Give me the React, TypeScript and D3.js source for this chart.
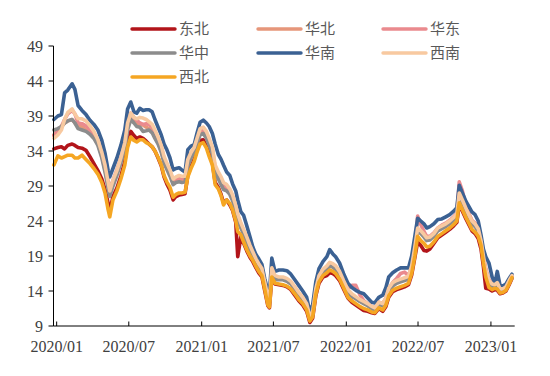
import React from "react";
import * as d3 from "d3";

const dates = [
"2019-12-25","2020-01-04","2020-01-13","2020-01-21","2020-01-29","2020-02-09","2020-02-16","2020-02-24","2020-03-05","2020-03-15",
"2020-03-25","2020-04-04","2020-04-14","2020-04-24","2020-05-02","2020-05-10","2020-05-14","2020-05-22","2020-06-01","2020-06-11",
"2020-06-21","2020-06-28","2020-07-06","2020-07-14","2020-07-21","2020-07-29","2020-08-06","2020-08-14","2020-08-21","2020-08-29",
"2020-09-05","2020-09-13","2020-09-21","2020-09-28","2020-10-05","2020-10-13","2020-10-21","2020-10-28","2020-11-05","2020-11-12",
"2020-11-20","2020-11-27","2020-12-05","2020-12-13","2020-12-20","2020-12-28","2021-01-05","2021-01-13","2021-01-20","2021-01-28",
"2021-02-04","2021-02-12","2021-02-19","2021-02-25","2021-03-05","2021-03-13","2021-03-20","2021-03-28","2021-04-02","2021-04-10",
"2021-04-17","2021-04-25","2021-05-03","2021-05-10","2021-05-18","2021-05-25","2021-06-02","2021-06-09","2021-06-17","2021-06-21",
"2021-06-27","2021-07-05","2021-07-15","2021-07-25","2021-08-04","2021-08-14","2021-08-24","2021-09-03","2021-09-13","2021-09-23",
"2021-10-01","2021-10-08","2021-10-16","2021-10-24","2021-11-03","2021-11-13","2021-11-20","2021-11-28","2021-12-05","2021-12-15",
"2021-12-25","2022-01-05","2022-01-15","2022-01-25","2022-02-04","2022-02-14","2022-02-24","2022-03-06","2022-03-14","2022-03-24",
"2022-04-03","2022-04-11","2022-04-18","2022-04-28","2022-05-08","2022-05-18","2022-05-28","2022-06-07","2022-06-15","2022-06-23",
"2022-06-30","2022-07-08","2022-07-16","2022-07-23","2022-07-31","2022-08-10","2022-08-20","2022-08-30","2022-09-09","2022-09-19",
"2022-09-29","2022-10-07","2022-10-13","2022-10-21","2022-10-30","2022-11-07","2022-11-14","2022-11-22","2022-11-30","2022-12-07",
"2022-12-13","2022-12-19","2022-12-27","2023-01-04","2023-01-11","2023-01-17","2023-01-24","2023-01-31","2023-02-08","2023-02-16",
"2023-02-23"
];

// 东北
const dongbei = [
34.3,34.5,34.6,34.3,34.8,35.0,34.8,34.5,34.4,34.1,
33.2,32.2,31.2,30.0,28.5,26.5,25.3,27.5,28.7,30.4,
32.5,35.3,36.8,36.2,35.8,36.0,35.8,35.4,35.0,34.6,
34.0,33.0,31.9,30.3,29.3,28.4,27.0,27.5,27.7,27.8,
27.9,30.5,31.8,32.8,34.1,35.5,35.6,34.8,33.6,32.3,
29.5,28.8,27.8,26.6,27.0,26.3,25.5,23.8,18.9,21.8,
20.8,19.7,18.8,18.2,17.3,16.6,16.0,14.1,11.9,11.6,
15.9,15.0,14.9,14.8,14.6,14.2,13.4,12.6,12.0,11.1,
9.5,10.1,13.3,15.1,16.0,16.2,16.6,16.5,16.2,15.5,
14.3,13.0,12.4,12.0,11.6,11.2,11.1,10.9,10.8,11.5,
11.1,11.8,13.1,13.9,14.2,14.4,14.6,14.9,16.3,18.8,
21.0,20.5,19.8,19.7,20.0,20.8,21.6,22.0,22.4,22.8,
23.3,23.8,26.4,25.4,24.3,23.4,22.6,22.2,21.5,20.0,
17.5,14.4,14.3,14.0,14.2,14.1,13.6,13.7,14.0,14.9,
15.8
];

// 华北
const huabei = [
36.3,37.0,37.5,38.0,38.3,38.5,38.0,37.6,37.5,37.0,
36.6,36.0,35.0,33.3,31.3,29.0,27.9,29.2,30.8,32.6,
34.7,37.4,38.8,38.3,37.8,37.8,37.7,37.4,37.2,36.8,
36.0,35.2,34.0,32.5,31.6,30.6,29.4,29.6,29.8,29.6,
29.7,32.0,33.2,34.0,35.2,36.5,36.6,36.0,35.0,33.8,
31.2,30.3,29.5,28.8,28.5,28.0,27.1,25.6,24.3,23.2,
22.3,21.2,20.1,19.2,18.3,17.6,16.9,15.0,12.8,12.5,
17.0,15.8,15.7,15.7,15.5,15.1,14.3,13.5,12.8,11.9,
10.1,10.7,14.0,15.8,16.8,17.3,17.8,17.5,17.2,16.4,
15.2,14.0,13.4,13.0,12.6,12.3,12.0,11.6,11.4,12.2,
12.0,12.8,14.1,14.9,15.3,15.5,15.7,15.9,17.3,20.0,
22.8,22.4,21.9,21.4,21.5,22.0,22.8,23.1,23.4,23.8,
24.3,24.8,27.8,26.8,25.6,24.6,23.8,23.4,22.7,21.0,
18.8,16.8,15.2,14.8,14.7,14.9,14.1,14.1,14.4,15.3,
16.0
];

// 华东
const huadong = [
36.2,36.8,37.5,38.5,39.3,39.8,39.3,38.0,37.9,37.6,
37.0,36.3,35.5,34.0,32.0,29.6,28.5,29.8,31.3,33.0,
35.3,38.0,39.4,38.8,38.4,38.0,37.8,37.9,37.8,37.4,
36.7,35.6,34.5,33.0,32.0,31.0,29.8,30.0,30.2,30.1,
30.0,32.5,33.6,34.3,35.5,37.0,37.0,36.4,35.4,34.2,
31.6,30.8,30.0,29.2,28.9,28.4,27.5,26.0,24.8,23.5,
22.6,21.5,20.3,19.4,18.5,17.8,17.1,15.2,13.0,12.7,
17.2,16.0,15.9,15.9,15.6,15.2,14.5,13.7,13.0,12.0,
10.3,10.9,14.2,16.0,17.0,17.5,18.0,17.8,17.5,16.7,
15.4,14.3,14.8,14.8,13.5,12.6,12.2,11.8,11.6,12.4,
12.2,13.0,14.3,15.2,15.8,16.5,16.7,16.2,17.5,20.2,
24.7,23.5,22.5,21.8,21.8,22.3,23.0,23.4,23.7,24.1,
24.6,25.1,29.6,28.3,26.2,25.0,24.1,23.7,23.0,21.3,
19.1,17.2,15.6,15.1,14.9,15.0,14.3,14.3,14.6,15.5,
16.2
];

// 华中
const huazhong = [
37.0,37.2,37.5,38.0,38.3,38.5,38.0,37.2,37.0,36.8,
36.4,35.8,34.8,33.0,31.0,28.6,27.5,29.0,30.5,32.3,
34.4,37.0,38.5,38.0,37.5,37.4,36.8,36.9,37.0,36.6,
35.8,35.0,33.8,32.3,31.4,30.4,29.2,29.5,29.6,29.5,
29.6,31.8,33.0,33.8,35.0,36.3,36.5,35.8,34.8,33.6,
31.0,30.0,29.2,28.5,28.3,27.8,26.9,25.4,24.0,23.0,
22.1,21.0,19.9,19.0,18.1,17.4,16.7,14.8,12.6,12.3,
16.8,15.6,15.6,15.6,15.4,15.0,14.2,13.4,12.7,11.8,
10.0,10.6,13.9,15.7,16.7,17.1,17.6,17.4,17.1,16.2,
15.0,13.8,13.2,12.9,12.5,12.2,11.9,11.5,11.3,12.1,
11.9,12.6,13.9,14.7,15.1,15.3,15.5,15.7,17.1,19.7,
22.5,22.2,21.7,21.2,21.3,21.8,22.6,22.9,23.2,23.6,
24.1,24.6,27.5,26.5,25.3,24.4,23.6,23.2,22.5,20.9,
18.6,16.6,15.0,14.6,14.6,14.7,14.0,14.0,14.3,15.2,
15.9
];

// 华南
const huanan = [
38.5,39.0,39.2,42.3,42.7,43.6,42.8,40.5,39.8,39.2,
38.4,37.8,37.0,35.5,33.7,31.2,30.3,31.5,33.0,34.8,
37.0,40.0,41.0,39.6,39.4,40.1,39.8,39.9,39.9,39.6,
38.5,37.4,36.3,35.0,34.2,33.0,31.3,31.5,31.6,31.3,
31.0,34.2,34.7,34.9,36.5,38.1,38.4,38.0,37.5,36.5,
35.0,33.5,32.8,32.0,31.0,30.5,29.3,28.3,27.0,25.3,
24.8,23.3,21.7,20.3,19.2,18.6,17.8,15.8,14.0,13.7,
18.7,16.8,17.0,17.0,16.9,16.4,15.6,14.8,14.0,13.1,
11.0,12.0,15.3,17.2,18.2,18.9,19.9,19.3,18.9,18.0,
16.5,15.1,14.5,14.1,13.8,13.6,13.0,12.4,12.3,13.1,
13.4,14.5,16.0,16.6,17.0,17.3,17.3,17.3,19.0,21.8,
24.4,24.0,23.6,23.0,23.2,23.6,24.2,24.3,24.6,24.9,
25.4,25.9,29.1,28.0,26.8,26.0,25.3,24.9,24.0,22.0,
20.0,18.9,18.0,16.0,15.1,16.8,14.8,14.7,15.0,15.8,
16.4
];

// 西南
const xinan = [
35.8,36.3,37.0,38.5,39.5,40.0,39.3,38.6,38.6,38.3,
37.6,36.8,35.6,33.8,32.0,29.5,28.3,29.8,31.2,33.0,
35.2,38.0,39.4,38.8,38.6,38.8,38.7,38.5,38.2,37.8,
37.0,36.0,34.8,33.2,32.3,31.3,30.0,30.3,30.5,30.4,
30.4,32.8,33.8,34.5,35.8,37.2,37.4,36.8,35.8,34.6,
32.0,31.0,30.3,29.5,29.2,28.6,27.7,26.2,25.0,23.7,
22.8,21.7,20.5,19.6,18.6,17.9,17.2,15.3,13.2,12.8,
17.3,16.2,16.0,16.0,15.8,15.4,14.6,13.8,13.1,12.2,
10.4,11.0,14.3,16.2,17.1,17.6,18.1,17.9,17.6,16.8,
15.5,14.2,13.6,13.2,12.8,12.5,12.2,11.8,11.6,12.4,
12.2,13.0,14.4,15.2,15.5,15.7,15.9,16.1,17.6,20.3,
23.0,22.6,22.1,21.6,21.7,22.2,23.0,23.3,23.6,24.0,
24.5,25.0,28.0,27.0,25.8,24.8,24.0,23.6,22.9,21.2,
19.0,17.0,15.5,15.0,14.9,15.2,14.3,14.3,14.6,15.5,
16.2
];

// 西北
const xibei = [
32.0,33.3,33.0,33.2,33.4,33.4,33.0,33.0,33.4,32.8,
32.2,31.5,30.7,29.5,28.0,25.6,24.6,27.0,28.3,30.0,
32.0,34.5,36.0,35.5,35.3,35.6,35.6,35.2,35.0,34.6,
34.0,33.1,32.0,30.5,29.6,28.8,27.4,27.8,28.0,28.0,
28.1,30.3,31.5,32.5,33.8,35.0,35.2,34.4,33.2,32.0,
29.2,28.6,27.6,26.3,27.0,26.5,25.6,24.0,22.5,22.0,
21.0,19.9,19.0,18.4,17.5,16.8,16.2,14.3,12.0,11.7,
16.0,15.1,15.0,14.9,14.7,14.3,13.6,12.8,12.2,11.3,
9.7,10.3,13.5,15.3,16.2,16.6,17.0,16.8,16.5,15.7,
14.5,13.1,12.6,12.2,11.8,11.5,11.3,11.0,10.9,11.6,
11.3,12.0,13.3,14.1,14.4,14.6,14.8,15.1,16.5,19.0,
21.8,21.2,20.8,20.3,20.4,21.0,21.8,22.2,22.6,23.0,
23.5,24.0,26.6,25.6,24.5,23.6,22.8,22.4,21.8,20.5,
18.0,16.0,14.5,14.2,14.4,14.3,13.7,13.8,14.1,15.0,
15.9
];

const seriesNames = ["东北", "华北", "华东", "华中", "华南", "西南", "西北"];
const seriesValues = [dongbei, huabei, huadong, huazhong, huanan, xinan, xibei];
const seriesColors = ["#B2151A", "#E6967A", "#EA8A8E", "#8C8C8C", "#3B6193", "#F8C9A0", "#F5A623"];

const xTickLabels = ["2020/01", "2020/07", "2021/01", "2021/07", "2022/01", "2022/07", "2023/01"];
const yTickValues = [9, 14, 19, 24, 29, 34, 39, 44, 49];

export default function App() {
  const parse = d3.timeParse("%Y-%m-%d");
  const parseTick = d3.timeParse("%Y/%m");
  const parsed = dates.map((d) => parse(d) as Date);

  const x = d3
    .scaleTime()
    .domain([new Date(2019, 11, 24), new Date(2023, 2, 2)])
    .range([53.5, 514.7]);
  const y = d3.scaleLinear().domain([9, 49]).range([326, 46]);

  const line = d3
    .line<number>()
    .x((_, i) => x(parsed[i]))
    .y((v) => y(v));

  const legendCols = [132, 258, 383];
  const legendRows = [29, 53, 77];

  const axisColor = "#000";
  const tickFont = "'Liberation Serif', 'Times New Roman', serif";
  const cjkFont = "'Noto Sans CJK SC', sans-serif";

  return (
    <svg
      width={550}
      height={376}
      style={{ position: "absolute", left: 0, top: 0, background: "#fff" }}
    >
      <rect x={0} y={0} width={550} height={376} fill="#fff" />
      {seriesValues.map((vals, i) => (
        <path
          key={seriesNames[i]}
          d={line(vals) || ""}
          fill="none"
          stroke={seriesColors[i]}
          strokeWidth={3.6}
          strokeLinejoin="round"
          strokeLinecap="round"
        />
      ))}
      <line x1={53.5} x2={53.5} y1={y(49)} y2={y(9)} stroke={axisColor} strokeWidth={1} />
      {yTickValues.map((v) => (
        <g key={v}>
          <line x1={48.5} x2={53.5} y1={y(v)} y2={y(v)} stroke={axisColor} strokeWidth={1} />
          <text
            x={43}
            y={y(v)}
            dy="0.35em"
            textAnchor="end"
            fontFamily={tickFont}
            fontSize={16}
            fill="#404040"
          >
            {v}
          </text>
        </g>
      ))}
      <line x1={53.5} x2={514.7} y1={326} y2={326} stroke={axisColor} strokeWidth={1} />
      {xTickLabels.map((t) => {
        const xx = x(parseTick(t) as Date);
        return (
          <g key={t}>
            <line x1={xx} x2={xx} y1={326} y2={321.5} stroke={axisColor} strokeWidth={1} />
            <text
              x={xx}
              y={352}
              textAnchor="middle"
              fontFamily={tickFont}
              fontSize={16}
              fill="#404040"
            >
              {t}
            </text>
          </g>
        );
      })}
      {seriesNames.map((name, i) => {
        const cx = legendCols[i % 3];
        const cy = legendRows[Math.floor(i / 3)];
        return (
          <g key={"lg" + name}>
            <line
              x1={cx}
              x2={cx + 43}
              y1={cy}
              y2={cy}
              stroke={seriesColors[i]}
              strokeWidth={3.4}
              strokeLinecap="round"
            />
            <text
              x={cx + 47}
              y={cy}
              dy="0.36em"
              fontFamily={cjkFont}
              fontSize={15}
              fill="#595959"
            >
              {name}
            </text>
          </g>
        );
      })}
    </svg>
  );
}
